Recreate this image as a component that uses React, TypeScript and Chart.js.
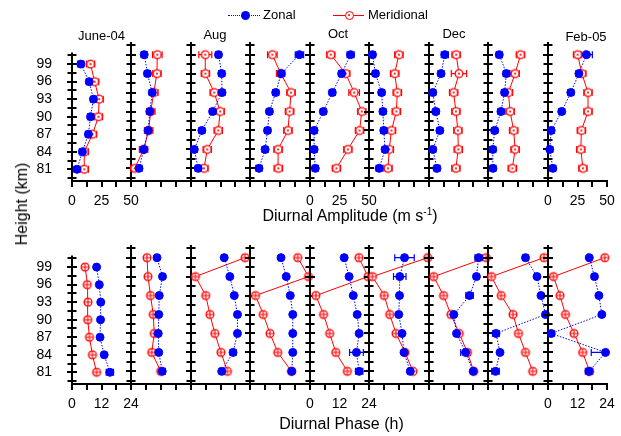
import React, { useEffect, useRef } from 'react';
import { Chart, registerables } from 'chart.js';

Chart.register(...registerables);

const FONT = 'Liberation Sans, Arial, Helvetica, sans-serif';
const BLUE = '#0000ff';
const RED = '#ff0000';

// heights (km), bottom to top
const heights = [81, 84, 87, 90, 93, 96, 99];
const panelTitles = ['June-04', '', 'Aug', '', 'Oct', '', 'Dec', '', 'Feb-05'];
const amplitudeTickLabels = [0, 25, 50];
const phaseTickLabels = [0, 12, 24];
const heightTickLabels = [81, 84, 87, 90, 93, 96, 99];

// Diurnal amplitude (m/s), one row per month Jun-04 ... Feb-05, values at 81..99 km
const zonalAmplitude = [
  [4.2, 8.8, 13.9, 15.7, 18.2, 14.6, 7.5],
  [6.7, 10.7, 14.3, 15.7, 17.7, 13.7, 11.0],
  [6.1, 2.8, 9.2, 18.3, 26.3, 26.0, 23.3],
  [7.5, 12.6, 14.6, 16.2, 21.4, 26.0, 41.2],
  [4.5, 3.5, 3.5, 11.3, 18.9, 26.8, 34.4],
  [8.5, 13.4, 12.3, 11.6, 10.5, 5.4, 2.9],
  [6.8, 3.2, 9.2, 5.8, 3.2, 10.2, 13.4],
  [4.1, 4.0, 5.6, 10.8, 13.8, 15.3, 9.4],
  [4.1, 1.5, 2.7, 11.6, 19.3, 26.2, 32.6],
];
const meridionalAmplitude = [
  [10.4, 10.4, 17.4, 22.4, 23.0, 19.2, 15.7],
  [3.1, 10.5, 14.7, 16.4, 19.0, 21.6, 21.9],
  [11.0, 13.8, 23.1, 24.7, 19.7, 12.2, 12.1],
  [23.6, 23.4, 31.6, 33.0, 34.2, 25.6, 18.6],
  [22.4, 32.1, 42.0, 43.9, 37.4, 30.3, 17.6],
  [15.8, 16.9, 18.7, 22.8, 23.6, 21.4, 24.9],
  [22.8, 24.8, 24.5, 22.8, 20.9, 25.4, 23.0],
  [20.3, 22.6, 21.4, 18.4, 17.0, 22.6, 27.1],
  [29.6, 27.8, 28.3, 33.9, 33.9, 28.7, 25.1],
];
const zonalAmplitudeError = [
  [2.5, 2.5, 2.5, 2.5, 2.5, 2.5, 2.5],
  [2.5, 2.5, 2.5, 2.5, 2.5, 2.5, 2.5],
  [2.5, 2.5, 2.5, 2.5, 2.5, 2.5, 2.5],
  [2.5, 2.5, 2.5, 2.5, 2.5, 2.5, 3.5],
  [2.5, 2.5, 2.5, 2.5, 2.5, 2.5, 3.0],
  [2.5, 2.5, 2.5, 2.5, 2.5, 2.5, 2.5],
  [2.5, 2.5, 2.5, 2.5, 2.5, 2.5, 3.0],
  [2.5, 2.5, 2.5, 2.5, 2.5, 2.5, 2.5],
  [2.5, 2.5, 2.5, 2.5, 2.5, 2.5, 5.0],
];
const meridionalAmplitudeError = [
  [3.5, 3.5, 3.5, 3.5, 3.5, 3.5, 3.5],
  [3.5, 3.5, 3.5, 3.5, 3.5, 3.5, 4.0],
  [3.5, 3.5, 3.5, 3.5, 3.5, 3.5, 5.5],
  [3.5, 3.5, 3.5, 3.5, 3.5, 3.5, 4.0],
  [3.5, 3.5, 3.5, 3.5, 4.5, 3.5, 3.5],
  [3.5, 3.5, 3.5, 3.5, 3.5, 3.5, 3.5],
  [3.5, 3.5, 3.5, 3.5, 3.5, 6.5, 3.5],
  [3.5, 3.5, 3.5, 3.5, 3.5, 3.5, 3.5],
  [3.5, 3.5, 3.5, 3.5, 3.5, 3.5, 3.5],
];

// Diurnal phase (h), one row per month, values at 81..99 km
const zonalPhase = [
  [15.4, 13.1, 11.4, 11.6, 11.7, 11.1, 10.0],
  [12.5, 11.1, 10.9, 11.1, 11.3, 12.6, 10.4],
  [12.5, 17.1, 18.9, 18.9, 17.6, 15.8, 13.5],
  [16.7, 17.1, 17.1, 17.1, 16.1, 14.5, 12.4],
  [20.0, 18.9, 20.0, 19.2, 17.6, 15.9, 13.9],
  [16.5, 14.0, 13.2, 11.9, 12.2, 12.3, 14.2],
  [18.0, 14.9, 11.2, 10.1, 16.5, 19.3, 20.2],
  [3.0, 4.8, 3.2, 23.0, 21.2, 19.6, 15.0],
  [16.7, 23.4, 1.3, 21.9, 20.7, 18.9, 16.8],
];
const meridionalPhase = [
  [10.0, 8.3, 7.1, 6.4, 6.5, 6.2, 5.3],
  [11.9, 8.3, 9.3, 8.9, 7.8, 6.8, 6.4],
  [14.8, 12.2, 9.7, 7.7, 6.0, 1.8, 22.0],
  [16.6, 11.1, 8.0, 5.3, 2.2, 23.4, 19.1],
  [15.2, 10.5, 8.0, 5.5, 2.4, 23.6, 19.9],
  [17.6, 14.4, 10.8, 8.3, 6.1, 1.4, 23.5],
  [18.2, 15.6, 12.3, 8.9, 5.9, 1.9, 23.3],
  [17.9, 15.0, 12.2, 10.0, 5.3, 1.4, 22.4],
  [16.9, 14.1, 10.6, 7.1, 4.9, 2.2, 23.1],
];
const zonalPhaseError = [
  [1.5, 0.9, 0.8, 0.8, 0.8, 0.8, 0.8],
  [1.2, 0.9, 0.8, 0.8, 0.8, 0.8, 0.8],
  [0.9, 1.2, 0.8, 0.8, 0.8, 0.8, 0.8],
  [0.9, 0.8, 0.8, 0.8, 0.8, 0.8, 0.8],
  [1.5, 2.8, 0.9, 0.8, 0.8, 0.8, 0.8],
  [0.9, 0.9, 0.8, 0.8, 0.8, 2.5, 3.9],
  [0.9, 2.0, 0.8, 0.9, 1.5, 0.9, 1.5],
  [1.5, 0.9, 1.3, 0.8, 0.9, 0.9, 1.0],
  [1.5, 5.8, 1.2, 0.8, 0.8, 0.8, 0.8],
];
const meridionalPhaseError = [
  [0.8, 0.8, 0.8, 0.8, 0.8, 0.8, 0.8],
  [0.8, 0.8, 0.8, 0.8, 0.8, 0.8, 0.8],
  [0.8, 0.8, 0.8, 0.8, 0.8, 0.8, 0.9],
  [0.8, 0.8, 0.8, 0.8, 0.8, 0.8, 0.8],
  [0.8, 0.8, 0.8, 0.8, 0.8, 0.8, 0.8],
  [0.8, 0.8, 0.8, 0.8, 0.8, 0.8, 0.8],
  [0.8, 0.8, 0.8, 0.8, 0.8, 0.8, 0.8],
  [0.8, 0.8, 0.8, 0.8, 0.8, 0.8, 0.8],
  [0.8, 0.8, 0.8, 0.8, 0.8, 0.8, 0.8],
];

// layout
const panelEdges = [72, 131, 191, 250, 310, 369, 429, 488, 548, 607];
const rowsGeom = {
  amp: { top: 42, bottom: 181 },
  phase: { top: 245, bottom: 384 },
};
const AXIS_H = 32;
const PAD_T = 10;
const PAD_R = 22;
const Y_AXIS_W = 50;

function makeMarker(kind: 'amp' | 'phase'): HTMLCanvasElement {
  const c = document.createElement('canvas');
  c.width = 12;
  c.height = 12;
  const g = c.getContext('2d')!;
  g.beginPath();
  g.arc(6, 6, 3.9, 0, Math.PI * 2);
  g.fillStyle = '#ffffff';
  g.fill();
  g.strokeStyle = RED;
  g.lineWidth = 1.3;
  g.stroke();
  if (kind === 'amp') {
    g.beginPath();
    g.arc(6, 6, 1.1, 0, Math.PI * 2);
    g.fillStyle = RED;
    g.fill();
  } else {
    g.beginPath();
    g.moveTo(2.2, 6);
    g.lineTo(9.8, 6);
    g.moveTo(6, 2.2);
    g.lineTo(6, 9.8);
    g.lineWidth = 1.1;
    g.stroke();
  }
  return c;
}

const errorBarPlugin = {
  id: 'errorBars',
  beforeDatasetsDraw(chart: any) {
    const { ctx, chartArea } = chart;
    const xs = chart.scales.x;
    chart.data.datasets.forEach((ds: any, i: number) => {
      const errs: number[] | undefined = ds.errors;
      if (!errs) return;
      const meta = chart.getDatasetMeta(i);
      ctx.save();
      ctx.strokeStyle = ds.borderColor;
      ctx.lineWidth = 1.2;
      meta.data.forEach((pt: any, j: number) => {
        const v = ds.data[j].x;
        const e = errs[j];
        const y = pt.y;
        const lo = xs.getPixelForValue(v - e);
        const hi = xs.getPixelForValue(v + e);
        const x1 = Math.max(lo, chartArea.left - 1);
        const x2 = Math.min(hi, chartArea.right + 1);
        ctx.beginPath();
        ctx.moveTo(x1, y);
        ctx.lineTo(x2, y);
        if (lo >= chartArea.left - 1) {
          ctx.moveTo(lo, y - 3.5);
          ctx.lineTo(lo, y + 3.5);
        }
        if (hi <= chartArea.right + 1) {
          ctx.moveTo(hi, y - 3.5);
          ctx.lineTo(hi, y + 3.5);
        }
        ctx.stroke();
      });
      ctx.restore();
    });
  },
};

const leftAxisPlugin = {
  id: 'leftAxis',
  beforeDatasetsDraw(chart: any) {
    const { ctx, chartArea } = chart;
    const ys = chart.scales.y;
    const x = chartArea.left;
    ctx.save();
    ctx.strokeStyle = '#000';
    ctx.lineWidth = 2;
    ctx.beginPath();
    ctx.moveTo(x, chartArea.top);
    ctx.lineTo(x, chartArea.bottom + 1);
    ctx.stroke();
    ctx.beginPath();
    for (let v = ys.min + 0.5; v <= ys.max - 0.5 + 1e-6; v += 1.5) {
      const y = Math.round(ys.getPixelForValue(v));
      const major = Math.abs(((v - heightTickLabels[0]) % 3 + 3) % 3) < 1e-6;
      const len = major ? 5 : 4.5;
      ctx.moveTo(x - len, y);
      ctx.lineTo(x + len, y);
    }
    ctx.stroke();
    ctx.restore();
  },
};

type RowKind = 'amp' | 'phase';

function Panel({ row, index }: { row: RowKind; index: number }) {
  const ref = useRef<HTMLCanvasElement>(null);
  const g = rowsGeom[row];
  const padL = index === 0 ? 72 : 22;
  const pw = panelEdges[index + 1] - panelEdges[index];
  const ph = g.bottom - g.top;
  const width = padL + pw + PAD_R;
  const height = PAD_T + ph + AXIS_H;
  const left = panelEdges[index] - padL;
  const top = g.top - PAD_T;

  useEffect(() => {
    const isAmp = row === 'amp';
    const zVals = isAmp ? zonalAmplitude[index] : zonalPhase[index];
    const mVals = isAmp ? meridionalAmplitude[index] : meridionalPhase[index];
    const zErr = isAmp ? zonalAmplitudeError[index] : zonalPhaseError[index];
    const mErr = isAmp ? meridionalAmplitudeError[index] : meridionalPhaseError[index];
    const labelVals = isAmp ? amplitudeTickLabels : phaseTickLabels;
    const showX = index === 0 || index === 4 || index === 8;
    const showY = index === 0;
    const marker = makeMarker(row);

    const chart = new Chart(ref.current!, {
      type: 'scatter',
      data: {
        datasets: [
          {
            label: 'Zonal',
            data: heights.map((h, i) => ({ x: zVals[i], y: h })),
            showLine: true,
            borderColor: BLUE,
            borderWidth: 1,
            borderDash: [1.5, 1.5],
            pointStyle: 'circle',
            pointRadius: 4,
            pointBackgroundColor: BLUE,
            pointBorderColor: BLUE,
            pointBorderWidth: 1,
            clip: false,
            errors: zErr,
          } as any,
          {
            label: 'Meridional',
            data: heights.map((h, i) => ({ x: mVals[i], y: h })),
            showLine: true,
            borderColor: RED,
            borderWidth: 1,
            pointStyle: marker,
            pointRadius: 4,
            clip: false,
            errors: mErr,
          } as any,
        ],
      },
      options: {
        animation: false,
        responsive: false,
        maintainAspectRatio: false,
        devicePixelRatio: 1,
        events: [],
        layout: {
          padding: { left: showY ? padL - Y_AXIS_W : padL, right: PAD_R, top: PAD_T, bottom: 0 },
        },
        plugins: { legend: { display: false }, tooltip: { enabled: false } },
        scales: {
          x: {
            type: 'linear',
            min: 0,
            max: isAmp ? 50 : 24,
            afterFit: (s: any) => {
              s.height = AXIS_H;
            },
            border: { display: true, color: '#000', width: 2 },
            grid: {
              display: true,
              drawOnChartArea: false,
              drawTicks: true,
              tickLength: 6,
              color: '#000',
              lineWidth: 2,
            },
            ticks: {
              stepSize: isAmp ? 12.5 : 6,
              autoSkip: false,
              maxRotation: 0,
              minRotation: 0,
              padding: 6,
              color: '#000',
              font: { family: FONT, size: 14 },
              callback: (v: any) => (showX && labelVals.includes(Number(v)) ? String(v) : ''),
            },
          },
          y: {
            type: 'linear',
            min: 79,
            max: 101,
            display: showY,
            afterFit: (s: any) => {
              s.width = showY ? Y_AXIS_W : 0;
            },
            afterBuildTicks: (s: any) => {
              s.ticks = heightTickLabels.map((v) => ({ value: v }));
            },
            grid: { display: false },
            border: { display: false },
            ticks: {
              padding: 12,
              color: '#000',
              font: { family: FONT, size: 14 },
            },
          },
        },
      } as any,
      plugins: [leftAxisPlugin, errorBarPlugin],
    });
    return () => chart.destroy();
  }, [row, index]);

  return (
    <canvas
      ref={ref}
      width={width}
      height={height}
      style={{ position: 'absolute', left, top, width, height }}
    />
  );
}

const titlePos = [
  { cx: 101.5, cy: 36 },
  null,
  { cx: 215, cy: 35 },
  null,
  { cx: 338, cy: 33.5 },
  null,
  { cx: 454, cy: 33.5 },
  null,
  { cx: 586, cy: 37 },
];

export default function App() {
  const textBase: React.CSSProperties = {
    position: 'absolute',
    fontFamily: FONT,
    color: '#000',
    whiteSpace: 'nowrap',
  };
  return (
    <div
      style={{
        position: 'absolute',
        left: 0,
        top: 0,
        width: 621,
        height: 436,
        background: '#fff',
        overflow: 'hidden',
      }}
    >
      {(['amp', 'phase'] as RowKind[]).map((row) =>
        panelEdges.slice(0, 9).map((_, i) => <Panel key={row + i} row={row} index={i} />)
      )}

      {panelTitles.map((t, i) =>
        t && titlePos[i] ? (
          <div
            key={'t' + i}
            style={{
              ...textBase,
              fontSize: 13,
              lineHeight: '16px',
              left: titlePos[i]!.cx,
              top: titlePos[i]!.cy - 8,
              transform: 'translateX(-50%)',
            }}
          >
            {t}
          </div>
        ) : null
      )}

      {/* legend */}
      <div style={{ position: 'absolute', left: 228, top: 15, width: 32, borderTop: `1px dotted ${BLUE}` }} />
      <div
        style={{
          position: 'absolute',
          left: 240.5,
          top: 10.5,
          width: 9,
          height: 9,
          borderRadius: '50%',
          background: BLUE,
        }}
      />
      <div style={{ ...textBase, fontSize: 13, lineHeight: '16px', left: 263, top: 7 }}>Zonal</div>
      <div style={{ position: 'absolute', left: 333, top: 15, width: 31, borderTop: `1px solid ${RED}` }} />
      <div
        style={{
          position: 'absolute',
          left: 344.5,
          top: 10.5,
          width: 7,
          height: 7,
          borderRadius: '50%',
          border: `1.3px solid ${RED}`,
          background: '#fff',
        }}
      >
        <div
          style={{
            position: 'absolute',
            left: 2.3,
            top: 2.3,
            width: 2.4,
            height: 2.4,
            borderRadius: '50%',
            background: RED,
          }}
        />
      </div>
      <div style={{ ...textBase, fontSize: 13, lineHeight: '16px', left: 368, top: 7 }}>Meridional</div>

      {/* axis titles */}
      <div
        style={{
          ...textBase,
          fontSize: 16,
          lineHeight: '18px',
          left: 21.5,
          top: 204,
          transform: 'translate(-50%, -50%) rotate(-90deg)',
        }}
      >
        Height (km)
      </div>
      <div
        style={{
          ...textBase,
          fontSize: 16,
          lineHeight: '18px',
          left: 350,
          top: 207,
          transform: 'translateX(-50%)',
        }}
      >
        Diurnal Amplitude (m s<sup style={{ fontSize: 10, lineHeight: 0 }}>-1</sup>)
      </div>
      <div
        style={{
          ...textBase,
          fontSize: 16,
          lineHeight: '18px',
          left: 341.5,
          top: 415,
          transform: 'translateX(-50%)',
        }}
      >
        Diurnal Phase (h)
      </div>
    </div>
  );
}
